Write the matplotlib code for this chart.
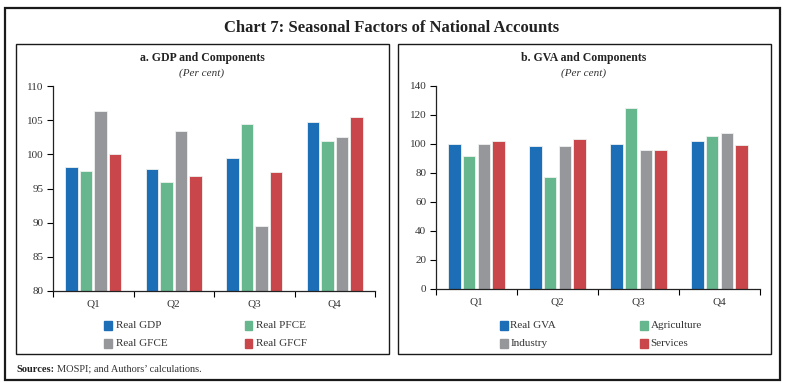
import matplotlib
matplotlib.use("Agg")
import matplotlib.pyplot as plt
from matplotlib.patches import Rectangle
import numpy as np

quarters = ["Q1", "Q2", "Q3", "Q4"]

gdp_series = ["Real GDP", "Real PFCE", "Real GFCE", "Real GFCF"]
real_gdp = [98.1, 97.8, 99.5, 104.7]
real_pfce = [97.6, 95.95, 104.4, 102.0]
real_gfce = [106.4, 103.4, 89.5, 102.5]
real_gfcf = [100.1, 96.9, 97.4, 105.5]

gva_series = ["Real GVA", "Agriculture", "Industry", "Services"]
real_gva = [100.1, 98.3, 99.7, 102.2]
agriculture = [91.9, 77.2, 124.9, 105.6]
industry = [99.7, 98.3, 95.6, 107.5]
services = [102.2, 103.6, 95.6, 99.5]

colors = ["#1C6EB7", "#66B68E", "#96979B", "#C9474A"]

W, H = 787, 387
fig = plt.figure(figsize=(W / 100, H / 100), dpi=100)
plt.rcParams['font.family'] = ['Liberation Serif', 'DejaVu Serif']

def px_rect(x0, y0, x1, y1, lw):
    fig.patches.append(Rectangle((x0 / W, 1 - y1 / H), (x1 - x0) / W, (y1 - y0) / H,
                                 transform=fig.transFigure, fill=False,
                                 edgecolor="#1a1a1a", linewidth=lw))

px_rect(5, 8, 780, 380, 1.6)
px_rect(16, 44, 389, 354, 1.0)
px_rect(398, 44, 771, 354, 1.0)

fig.text(392 / W, 1 - 28 / H, "Chart 7: Seasonal Factors of National Accounts",
         ha="center", va="center", fontsize=12, fontweight="bold", color="#222222")

def draw_panel(rect, series_vals, names, ylim, yticks, title, cx, leg_x, leg_dx):
    ax = fig.add_axes(rect)
    x = np.arange(len(quarters))
    step = 0.182
    offs = [-1.5 * step, -0.5 * step, 0.5 * step, 1.5 * step]
    for vals, off, c in zip(series_vals, offs, colors):
        ax.bar(x + off, vals, width=0.155, color=c, edgecolor="#eef2f0",
               linewidth=0.6, bottom=0, zorder=2)
    ax.set_ylim(*ylim)
    ax.set_xlim(-0.5, 3.5)
    ax.set_yticks(yticks)
    ax.set_yticklabels([str(v) for v in yticks], fontsize=8, color="#333333")
    ax.set_xticks(x)
    ax.set_xticklabels(quarters, fontsize=8, color="#333333")
    ax.set_xticks(np.arange(-0.5, 4.0, 1.0), minor=True)
    ax.tick_params(axis="x", which="major", length=0, pad=6)
    ax.tick_params(axis="x", which="minor", length=4, direction="out", width=0.8)
    ax.tick_params(axis="y", length=4, direction="out", width=0.8, pad=3)
    for s in ["top", "right"]:
        ax.spines[s].set_visible(False)
    for s in ["left", "bottom"]:
        ax.spines[s].set_linewidth(0.9)
        ax.spines[s].set_color("#222222")
    fig.text(cx / W, 1 - 58 / H, title, ha="center", va="center",
             fontsize=8.5, fontweight="bold", color="#222222")
    fig.text(cx / W, 1 - 73 / H, "(Per cent)", ha="center", va="center",
             fontsize=8, style="italic", color="#333333")
    rows = [325, 343]
    for i, (name, c) in enumerate(zip(names, colors)):
        lx = leg_x + (i % 2) * leg_dx
        ly = rows[i // 2]
        fig.patches.append(Rectangle(((lx - 4) / W, 1 - (ly + 4.5) / H), 8 / W, 9 / H,
                                     transform=fig.transFigure, color=c))
        fig.text((lx + 7) / W, 1 - ly / H, name, ha="left", va="center",
                 fontsize=8, color="#333333")
    return ax

draw_panel([53 / W, 1 - 291 / H, (375 - 53) / W, (291 - 86) / H],
           [real_gdp, real_pfce, real_gfce, real_gfcf], gdp_series,
           (80, 110), [80, 85, 90, 95, 100, 105, 110],
           "a. GDP and Components", 202, 108.5, 140)
draw_panel([436 / W, 1 - 289 / H, (760 - 436) / W, (289 - 85.7) / H],
           [real_gva, agriculture, industry, services], gva_series,
           (0, 140), [0, 20, 40, 60, 80, 100, 120, 140],
           "b. GVA and Components", 584, 503.5, 140)

t1 = fig.text(16 / W, 1 - 369 / H, "Sources:", ha="left", va="center",
              fontsize=7.5, fontweight="bold", color="#222222")
fig.canvas.draw()
bb = t1.get_window_extent()
fig.text((bb.x1 + 3) / W, 1 - 369 / H, "MOSPI; and Authors\u2019 calculations.",
         ha="left", va="center", fontsize=7.5, color="#333333")

fig.savefig("out.png", dpi=100)
